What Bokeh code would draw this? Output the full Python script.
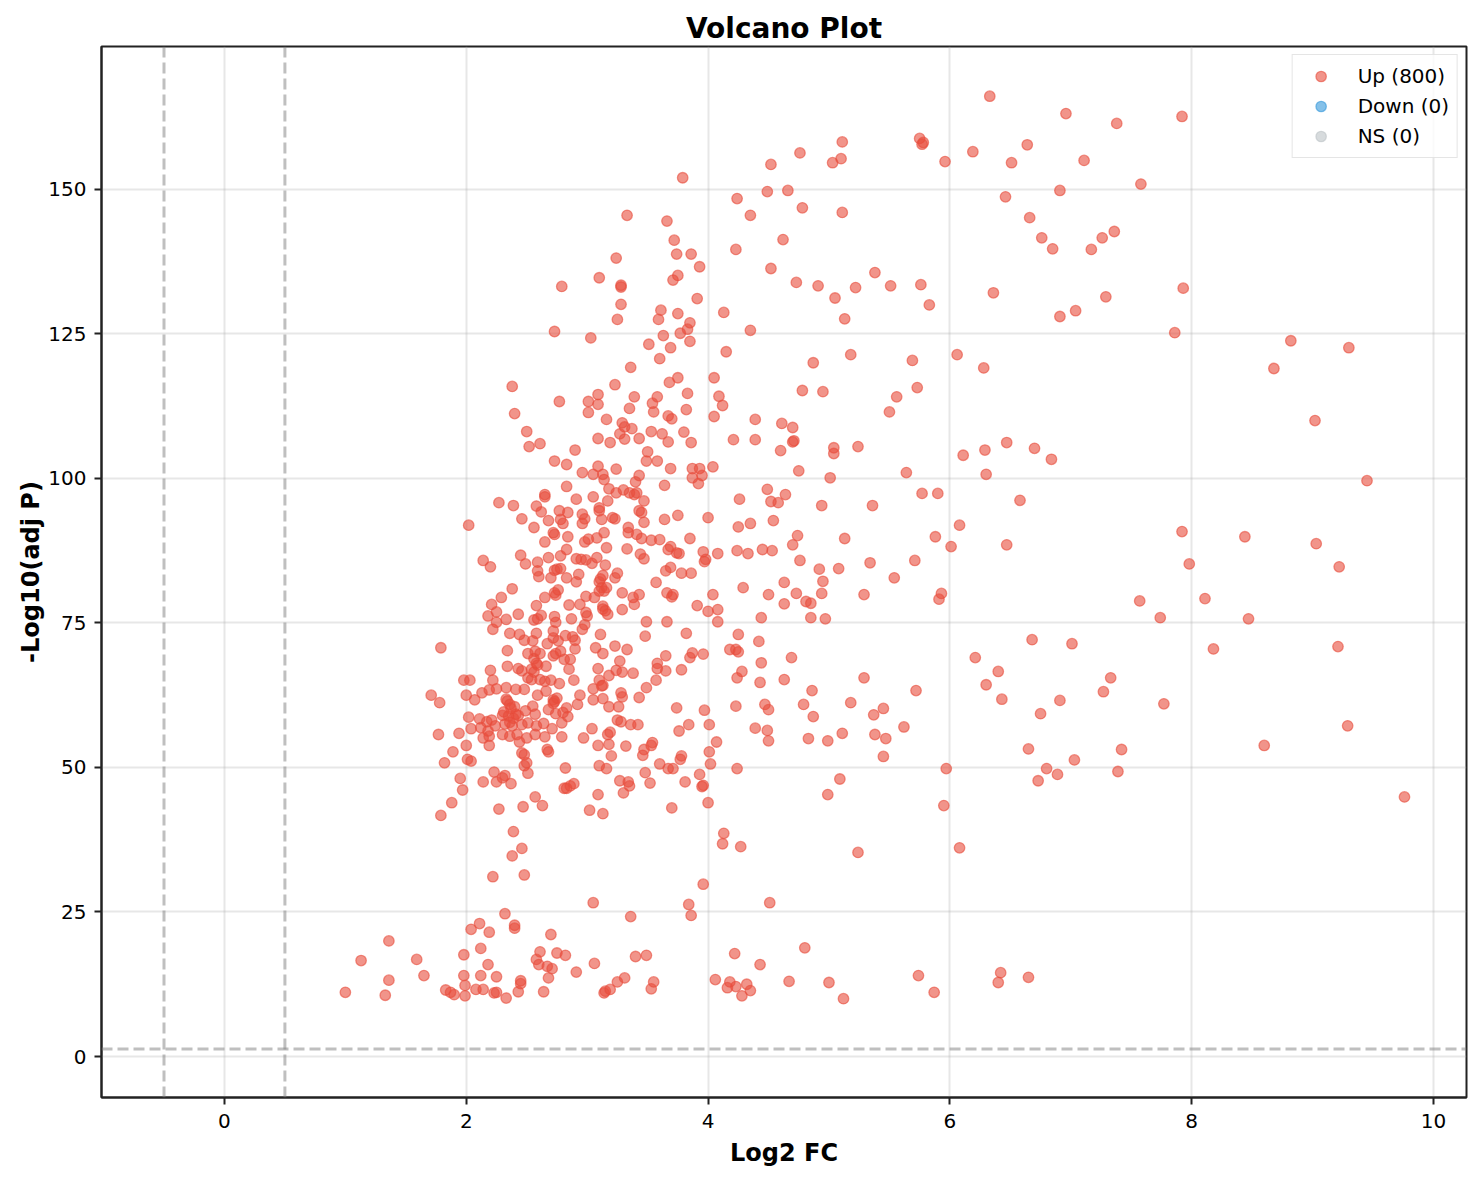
from bokeh.plotting import figure
from bokeh.models import ColumnDataSource, Range1d, FixedTicker, Span, Legend, LegendItem
from bokeh.embed import file_html
from bokeh.resources import INLINE

# upper band of genes (-log10 p above ~104), middle of the plot
top_log2fc = [
    3.79, 3.33, 3.66, 3.72, 3.74, 3.86, 3.93, 3.24, 3.10, 2.79,
    3.28, 3.28, 3.75, 3.71, 3.28, 3.25, 3.91, 3.61, 3.59, 3.75,
    3.85, 3.83, 3.77, 3.63, 2.73, 3.03, 3.85, 3.51, 3.69, 3.60,
    4.13, 4.15, 3.36, 3.75, 3.68, 4.05, 2.38, 3.23, 2.77, 3.09,
    3.01, 3.09, 3.39, 3.58, 3.54, 3.83, 4.09, 4.12, 2.40, 3.01,
    3.35, 3.55, 3.67, 3.70, 3.82, 4.05, 3.16, 3.29, 3.31, 3.37,
    3.27, 2.50, 2.52, 2.61, 2.90, 3.09, 3.19, 3.31, 3.43, 3.53,
    3.62, 3.67, 3.80, 3.86, 3.50,
]
top_neglog10p = [
    152.0, 145.5, 144.5, 141.2, 138.8, 138.8, 136.6, 138.1, 134.7, 133.2,
    133.1, 133.4, 135.1, 134.3, 130.1, 127.5, 131.1, 129.1, 127.5, 128.5,
    126.9, 125.8, 125.1, 124.7, 125.4, 124.3, 123.7, 123.2, 122.6, 120.7,
    128.7, 121.9, 119.2, 117.4, 116.6, 117.4, 115.9, 116.2, 113.3, 114.5,
    113.3, 112.8, 114.1, 114.1, 113.0, 114.7, 114.2, 112.6, 111.2, 111.4,
    112.1, 111.5, 110.8, 110.3, 111.9, 110.7, 110.2, 109.6, 108.9, 108.6,
    107.7, 108.1, 105.5, 106.0, 104.9, 106.9, 106.2, 106.8, 106.9, 108.1,
    107.7, 106.3, 108.0, 106.2, 104.6,
]

# upper band, right half
topright_log2fc = [
    6.33, 6.96, 7.38, 5.75, 5.77, 5.78, 5.11, 4.76, 4.52, 5.03,
    5.10, 5.96, 6.19, 6.51, 6.64, 7.11, 4.24, 4.49, 4.66, 4.78,
    5.11, 4.35, 4.62, 4.23, 6.46, 6.91, 6.66, 6.76, 6.85, 7.17,
    7.26, 7.36, 4.52, 4.73, 4.91, 5.05, 5.22, 5.38, 5.51, 5.76,
    5.83, 6.36, 6.91, 7.04, 7.29, 5.13, 4.35, 4.87, 5.18, 5.69,
    6.06, 6.28, 4.78, 4.95, 5.56, 5.50, 5.73, 4.39, 4.61, 4.70,
    4.70, 4.71, 4.21, 4.39, 4.60, 5.04, 5.04, 5.24, 6.11, 6.29,
    6.47, 6.70, 6.84, 7.58, 7.92, 7.93,
]
topright_neglog10p = [
    166.1, 163.1, 161.4, 158.8, 157.8, 158.1, 158.2, 156.3, 154.3, 154.6,
    155.3, 154.8, 156.5, 154.6, 157.7, 155.0, 148.4, 149.6, 149.8, 146.8,
    146.0, 145.5, 141.3, 139.6, 148.7, 149.8, 145.1, 141.6, 139.7, 139.6,
    141.6, 142.7, 136.3, 133.9, 133.3, 131.2, 133.0, 135.6, 133.3, 133.5,
    130.0, 132.1, 128.0, 129.0, 131.4, 127.6, 125.6, 120.0, 121.4, 120.4,
    121.4, 119.1, 115.2, 115.0, 114.1, 111.5, 115.7, 110.2, 109.5, 108.8,
    106.3, 106.5, 106.7, 106.7, 104.8, 105.3, 104.3, 105.5, 104.0, 104.9,
    106.2, 105.2, 103.3, 150.9, 162.6, 132.9,
]

# far right (log2 FC above ~7.2)
farright_log2fc = [
    7.86, 8.82, 9.30, 8.68, 9.02, 9.45, 7.92, 7.98, 8.44, 9.03,
    9.22, 7.57, 7.74, 8.11, 8.47, 8.18, 9.21, 7.33, 7.27, 7.77,
    9.29, 8.60, 7.42, 7.39, 9.76,
]
farright_neglog10p = [
    125.2, 123.8, 122.6, 119.0, 110.0, 99.6, 90.8, 85.2, 89.9, 88.7,
    84.7, 78.8, 75.9, 79.2, 75.7, 70.5, 70.9, 65.5, 63.1, 61.0,
    57.2, 53.8, 53.1, 49.3, 44.9,
]

# middle band, right of log2 FC ~4.2
midright_log2fc = [
    4.75, 5.01, 5.64, 6.30, 4.49, 4.64, 4.26, 4.52, 4.58, 4.94,
    5.36, 5.77, 5.90, 6.58, 4.25, 4.35, 4.54, 4.74, 4.70, 5.13,
    5.88, 6.08, 6.01, 6.47, 4.24, 4.33, 4.45, 4.53, 4.76, 4.92,
    5.08, 5.34, 5.71, 5.54, 4.95, 4.63, 4.29, 4.50, 4.73, 4.94,
    5.29, 5.93, 5.91, 4.63, 4.81, 4.85, 4.44, 4.85, 4.97, 4.25,
    4.42, 4.18, 4.23, 4.25, 4.69, 4.44, 4.28, 4.24, 4.43, 4.63,
    5.29, 4.86, 5.72, 4.23, 4.47, 4.50, 4.79, 5.18, 4.87, 5.37,
    5.45, 4.39, 4.49, 4.50, 4.83, 4.99, 5.11, 5.38, 5.47, 5.62,
    5.45, 4.24, 5.97, 5.09, 4.99, 6.21, 6.40, 6.30, 6.43, 6.68,
    7.01, 6.91, 6.75, 6.65, 7.03, 6.80, 6.89, 6.73,
]
midright_neglog10p = [
    101.3, 100.1, 101.0, 100.7, 98.1, 97.2, 96.4, 96.0, 95.8, 95.3,
    95.3, 97.4, 97.4, 96.2, 91.6, 92.2, 92.7, 90.1, 88.5, 89.6,
    89.9, 91.9, 88.2, 88.5, 87.5, 87.0, 87.7, 87.5, 85.8, 84.3,
    84.4, 85.4, 85.8, 82.8, 82.2, 82.0, 81.1, 79.9, 80.1, 80.1,
    79.9, 80.1, 79.1, 78.3, 78.7, 78.4, 75.9, 75.9, 75.7, 73.0,
    71.8, 70.4, 70.4, 70.0, 69.0, 68.1, 66.6, 65.5, 64.7, 65.2,
    65.5, 63.3, 63.3, 60.6, 60.9, 60.0, 60.9, 61.2, 58.8, 59.1,
    60.2, 56.8, 56.4, 54.6, 55.0, 54.6, 55.9, 55.7, 55.0, 57.0,
    51.9, 49.8, 49.8, 48.0, 45.3, 69.0, 66.6, 64.3, 61.8, 72.1,
    71.4, 61.6, 59.3, 53.2, 51.3, 49.8, 48.8, 47.7,
]

# lower band, right of log2 FC ~4.2
lowright_log2fc = [
    5.95, 4.27, 5.24, 6.08, 4.51, 4.22, 4.80, 4.43, 4.18, 4.23,
    4.32, 4.35, 4.28, 4.67, 5.00, 5.12, 5.74, 5.87, 6.42, 6.40,
    6.65,
]
lowright_neglog10p = [
    43.4, 36.3, 35.3, 36.1, 26.6, 17.8, 18.8, 15.9, 12.9, 12.1,
    12.5, 11.4, 10.5, 13.0, 12.8, 10.0, 14.0, 11.1, 14.5, 12.8,
    13.7,
]

# lower band, left of log2 FC ~4.2
lowleft_log2fc = [
    1.82, 2.01, 2.04, 2.23, 2.30, 2.32, 2.25, 2.37, 2.14, 1.95,
    1.97, 1.88, 1.79, 2.27, 2.48, 2.50, 2.51, 2.47, 2.57, 2.63,
    2.82, 2.81, 2.83, 2.86, 2.89, 3.10, 3.16, 3.09, 3.02, 3.13,
    3.27, 3.34, 3.35, 3.30, 3.48, 3.52, 3.60, 3.67, 3.71, 3.77,
    3.81, 3.93, 3.95, 3.96, 4.02, 4.00, 3.70, 4.13, 4.12, 2.39,
    2.46, 2.38, 2.48, 2.22, 3.96, 3.05, 3.84, 3.86, 2.32, 3.36,
    2.11, 2.04, 2.19, 2.40, 2.40, 2.70, 1.36, 1.13, 1.59, 1.65,
    1.36, 1.00, 1.33, 2.12, 1.98, 2.18, 1.98, 2.12, 2.25, 1.99,
    1.99, 1.83, 1.87, 1.90, 2.08, 2.14, 2.23, 2.25, 2.33, 2.43,
    2.45, 2.45, 2.61, 2.58, 2.60, 2.67, 2.71, 2.68, 2.75, 2.82,
    2.64, 2.91, 3.06, 3.14, 3.15, 3.19, 3.25, 3.31, 3.40, 3.49,
    3.53, 3.55, 4.06, 4.16,
]
lowleft_neglog10p = [
    50.8, 51.4, 51.1, 49.2, 48.2, 48.6, 47.5, 47.2, 47.5, 48.1,
    46.1, 43.9, 41.7, 42.8, 50.3, 50.8, 49.0, 43.2, 44.9, 43.4,
    49.9, 46.4, 46.4, 46.8, 47.2, 50.3, 49.8, 45.3, 42.6, 42.0,
    47.7, 47.5, 46.8, 45.6, 49.1, 47.3, 50.6, 49.8, 49.8, 51.4,
    47.5, 48.8, 46.7, 46.9, 50.6, 43.9, 43.0, 38.6, 36.8, 38.9,
    36.0, 34.7, 31.4, 31.1, 29.8, 26.6, 26.3, 24.4, 24.7, 24.2,
    23.0, 22.0, 21.5, 22.7, 22.2, 21.1, 20.0, 16.6, 16.8, 14.0,
    13.2, 11.1, 10.6, 18.7, 17.6, 15.9, 14.0, 14.0, 13.8, 12.3,
    10.5, 11.5, 11.1, 10.7, 11.6, 11.6, 11.0, 11.1, 10.1, 11.2,
    13.1, 12.6, 18.1, 16.8, 15.9, 15.6, 15.2, 13.6, 17.9, 17.5,
    11.2, 14.6, 16.1, 11.0, 11.3, 11.6, 12.9, 13.6, 17.3, 17.5,
    11.7, 12.9, 13.3, 11.9,
]

# dense core (log2 FC 1.7 - 4.1, -log10 p 52 - 103)
core_log2fc = [
    2.73, 2.83, 3.09, 3.24, 2.96, 3.05, 3.13, 3.49, 3.58, 3.69,
    3.87, 3.93, 4.04, 3.43, 3.87, 3.95, 3.92, 3.40, 3.14, 3.18,
    3.24, 2.83, 3.30, 3.35, 3.39, 3.41, 3.47, 3.64, 2.65, 2.65,
    2.27, 2.39, 2.58, 2.62, 2.77, 2.84, 2.91, 3.05, 3.17, 3.10,
    3.10, 2.96, 2.98, 3.12, 3.21, 3.23, 3.43, 3.45, 3.47, 3.64,
    3.75, 4.00, 2.46, 2.56, 2.68, 2.78, 2.80, 2.96, 2.02, 2.72,
    2.73, 2.84, 3.14, 3.34, 3.34, 3.41, 3.45, 3.53, 3.60, 3.85,
    2.65, 2.98, 3.01, 3.08, 3.16, 2.83, 3.33, 3.69, 3.67, 3.74,
    3.76, 3.96, 4.08, 3.44, 3.47, 3.98, 3.97, 2.45, 2.49, 2.59,
    2.68, 2.78, 2.91, 2.95, 2.99, 3.04, 3.08, 3.15, 2.14, 2.20,
    2.59, 2.60, 2.73, 2.75, 2.78, 2.70, 2.83, 2.91, 2.93, 3.25,
    3.23, 3.57, 3.65, 3.69, 3.78, 3.86, 2.38, 2.29, 2.21, 2.25,
    2.18, 2.25, 2.33, 2.43, 2.58, 2.65, 2.73, 2.74, 2.76, 2.85,
    2.94, 2.99, 3.06, 3.10, 3.12, 3.10, 3.14, 3.16, 3.13, 3.13,
    3.15, 3.17, 3.29, 3.29, 3.38, 3.39, 3.43, 3.49, 3.66, 3.71,
    3.70, 3.91, 4.00, 4.04, 4.08, 4.08, 3.66, 2.56, 2.59, 2.62,
    2.73, 2.74, 2.87, 2.99, 3.00, 2.22, 2.36, 2.44, 2.48, 2.55,
    2.58, 2.72, 2.72, 2.82, 2.88, 2.90, 2.96, 2.98, 3.11, 3.48,
    3.82, 1.79, 2.34, 2.51, 2.57, 2.61, 2.67, 2.76, 2.78, 2.74,
    2.72, 2.81, 2.86, 2.90, 3.07, 3.13, 3.23, 3.33, 3.65, 3.58,
    3.58, 3.65, 3.78, 3.85, 3.87, 3.96, 2.34, 2.43, 2.46, 2.54,
    2.56, 2.59, 2.66, 2.85, 3.09, 3.18, 3.27, 3.24, 3.29, 3.38,
    2.20, 1.98, 2.03, 2.22, 2.51, 2.54, 2.61, 2.65, 2.70, 2.77,
    2.89, 3.10, 3.13, 3.05, 3.12, 3.28, 3.29, 3.49, 3.57, 1.71,
    1.78, 2.00, 2.07, 2.13, 2.19, 2.25, 2.33, 2.41, 2.48, 2.59,
    2.66, 2.72, 2.72, 2.94, 2.92, 3.05, 3.13, 3.18, 3.26, 3.43,
    3.74, 3.97, 2.33, 2.36, 2.40, 2.30, 2.35, 2.41, 2.49, 2.55,
    2.57, 2.68, 2.74, 2.80, 2.83, 2.84, 2.02, 2.11, 2.17, 2.21,
    2.04, 2.12, 2.18, 2.24, 2.32, 2.38, 2.46, 2.51, 2.58, 2.64,
    2.71, 2.79, 3.25, 3.28, 3.36, 3.42, 3.84, 4.01, 1.77, 1.94,
    2.14, 2.19, 2.30, 2.36, 2.42, 2.44, 2.50, 2.57, 2.65, 2.79,
    2.97, 3.04, 3.17, 3.19, 3.76, 2.00, 2.19, 1.89, 2.46, 2.48,
    2.67, 2.68, 3.09, 3.18, 3.32, 3.47, 3.54, 3.53, 4.07, 4.01,
    3.78, 3.46, 3.20, 2.34, 2.37, 2.31, 2.39, 2.56, 2.58, 2.73,
    2.75, 3.13, 3.11, 2.43, 2.36,
]
core_neglog10p = [
    103.0, 102.4, 102.1, 101.6, 101.0, 100.7, 100.7, 103.0, 103.0, 101.7,
    101.7, 101.7, 102.0, 100.5, 100.1, 100.5, 99.1, 99.4, 99.8, 98.2,
    97.5, 98.6, 98.0, 97.5, 97.2, 97.5, 96.1, 98.8, 97.2, 96.8,
    95.8, 95.3, 95.2, 94.2, 94.4, 94.1, 96.4, 96.8, 96.1, 94.9,
    94.4, 93.8, 93.0, 92.9, 93.2, 93.0, 94.4, 94.1, 92.4, 92.9,
    93.6, 93.2, 93.0, 91.5, 92.7, 92.9, 92.2, 92.2, 91.9, 90.6,
    90.3, 89.9, 90.6, 91.5, 90.6, 90.3, 89.6, 89.3, 89.4, 89.6,
    89.0, 89.0, 89.5, 89.7, 88.0, 87.7, 87.8, 88.2, 87.7, 87.1,
    87.0, 87.3, 87.0, 86.9, 86.1, 86.0, 85.6, 86.7, 85.2, 85.5,
    86.3, 86.6, 86.1, 86.0, 85.9, 85.3, 86.3, 85.0, 85.8, 84.7,
    84.0, 83.0, 84.1, 84.3, 84.4, 82.8, 82.8, 82.1, 83.4, 83.6,
    82.8, 82.0, 84.0, 84.6, 83.6, 83.6, 80.9, 79.4, 78.2, 76.9,
    76.2, 75.1, 75.6, 76.5, 78.0, 79.4, 80.2, 79.8, 80.7, 78.1,
    78.2, 79.6, 79.4, 82.1, 81.1, 80.5, 80.5, 81.1, 77.9, 77.4,
    77.1, 76.5, 80.2, 77.3, 79.4, 78.2, 79.9, 75.2, 80.2, 79.9,
    79.5, 78.0, 77.0, 79.9, 77.3, 75.2, 75.2, 75.5, 75.7, 76.3,
    76.1, 75.1, 75.7, 76.8, 76.2, 73.9, 73.2, 73.0, 72.0, 71.9,
    73.2, 73.6, 72.4, 72.8, 72.6, 72.0, 73.9, 74.7, 73.0, 72.7,
    73.2, 70.7, 70.2, 69.7, 70.1, 69.7, 71.4, 71.9, 70.1, 69.7,
    69.3, 68.7, 68.7, 70.5, 70.7, 69.7, 71.0, 70.4, 69.3, 68.0,
    67.1, 66.7, 66.9, 69.0, 69.8, 69.6, 67.5, 67.1, 66.7, 67.0,
    66.5, 67.7, 67.5, 67.0, 67.1, 65.9, 68.4, 66.8, 66.5, 66.3,
    66.8, 65.1, 65.1, 65.1, 65.5, 65.2, 65.2, 64.9, 65.1, 64.5,
    65.1, 65.1, 64.2, 63.6, 64.1, 62.9, 62.2, 63.8, 65.1, 62.5,
    61.2, 62.5, 61.7, 62.9, 63.4, 63.6, 63.8, 63.5, 63.5, 62.5,
    63.2, 61.7, 61.1, 62.5, 60.9, 61.7, 61.9, 60.5, 60.5, 62.1,
    60.3, 59.9, 61.8, 60.9, 60.5, 59.0, 58.9, 59.2, 59.8, 60.6,
    59.2, 60.0, 59.3, 59.5, 60.3, 58.8, 58.7, 58.4, 57.9, 58.2,
    56.7, 56.9, 56.3, 57.2, 57.5, 57.2, 57.4, 57.7, 57.2, 57.6,
    56.7, 57.7, 58.2, 57.9, 57.4, 57.4, 57.4, 57.4, 55.7, 55.9,
    55.1, 55.4, 55.7, 55.4, 55.7, 54.4, 55.1, 55.7, 55.3, 55.3,
    55.1, 56.7, 55.7, 56.1, 56.3, 53.8, 53.8, 52.7, 52.5, 52.2,
    53.1, 52.7, 53.8, 54.0, 53.7, 53.1, 54.3, 53.8, 54.4, 52.7,
    52.0, 52.1, 52.0, 61.5, 60.2, 59.6, 58.5, 68.8, 68.0, 61.4,
    62.0, 83.2, 82.6, 59.0, 57.8,
]

# no genes fell in these groups
down_log2fc, down_neglog10p = [], []
ns_log2fc, ns_neglog10p = [], []

legend_labels = ["Up (800)", "Down (0)", "NS (0)"]
x_ticks = [0, 2, 4, 6, 8, 10]
y_ticks = [0, 25, 50, 75, 100, 125, 150]

fc_cutoff = 0.5
p_cutoff = 1.3

up_log2fc = (top_log2fc + topright_log2fc + farright_log2fc + midright_log2fc
             + lowright_log2fc + lowleft_log2fc + core_log2fc)
up_neglog10p = (top_neglog10p + topright_neglog10p + farright_neglog10p + midright_neglog10p
                + lowright_neglog10p + lowleft_neglog10p + core_neglog10p)

FONT = "DejaVu Sans"
UP_COLOR = "#e74c3c"
DOWN_COLOR = "#3498db"
NS_COLOR = "#bdc3c7"

p = figure(frame_width=1365, frame_height=1051,
           x_range=Range1d(-1.017, 10.273), y_range=Range1d(-7.09, 174.7),
           title="Volcano Plot", x_axis_label="Log2 FC", y_axis_label="-Log10(adj P)",
           output_backend="svg", toolbar_location=None, tools="",
           min_border_left=101, min_border_right=6, min_border_top=46, min_border_bottom=10)

p.title.text_font = FONT
p.title.text_font_size = "28px"
p.title.text_font_style = "bold"
p.title.text_color = "black"
p.title.align = "center"
p.title.standoff = 4

p.xaxis.ticker = FixedTicker(ticks=x_ticks)
p.yaxis.ticker = FixedTicker(ticks=y_ticks)
p.xgrid.ticker = FixedTicker(ticks=x_ticks)
p.ygrid.ticker = FixedTicker(ticks=y_ticks)

p.axis.axis_line_width = 2
p.axis.axis_line_color = "#222222"
p.axis.major_tick_line_width = 2
p.axis.major_tick_line_color = "#222222"
p.axis.major_tick_out = 7
p.axis.major_tick_in = 0
p.axis.minor_tick_out = 0
p.axis.minor_tick_in = 0
p.axis.major_label_text_font = FONT
p.axis.major_label_text_font_size = "20px"
p.axis.major_label_text_color = "black"
p.axis.axis_label_text_font = FONT
p.axis.axis_label_text_font_size = "24px"
p.axis.axis_label_text_font_style = "bold"
p.axis.axis_label_text_color = "black"
p.xaxis.major_label_standoff = 9
p.xaxis.axis_label_standoff = 8
p.yaxis.major_label_standoff = 8
p.yaxis.axis_label_standoff = 0

p.outline_line_color = "#222222"
p.outline_line_width = 2
p.outline_line_alpha = 1

p.grid.grid_line_color = "#b0b0b0"
p.grid.grid_line_alpha = 0.3
p.grid.grid_line_width = 2

src_up = ColumnDataSource(data=dict(x=up_log2fc, y=up_neglog10p))
src_down = ColumnDataSource(data=dict(x=down_log2fc, y=down_neglog10p))
src_ns = ColumnDataSource(data=dict(x=ns_log2fc, y=ns_neglog10p))

marker = dict(size=10.5, fill_alpha=0.6, line_alpha=0.6, line_width=1.3)
p.scatter("x", "y", source=src_ns, fill_color=NS_COLOR, line_color=NS_COLOR, **marker)
p.scatter("x", "y", source=src_down, fill_color=DOWN_COLOR, line_color=DOWN_COLOR, **marker)
r_up = p.scatter("x", "y", source=src_up, fill_color=UP_COLOR, line_color=UP_COLOR, **marker)

# empty groups draw nothing in a legend, so give them stand-in swatches
nan = float("nan")
proxy_down = p.scatter(x=[nan], y=[nan], fill_color=DOWN_COLOR, line_color=DOWN_COLOR, **marker)
proxy_ns = p.scatter(x=[nan], y=[nan], fill_color=NS_COLOR, line_color=NS_COLOR, **marker)

# threshold lines
for loc in [-fc_cutoff, fc_cutoff]:
    p.add_layout(Span(location=loc, dimension="height", line_color="gray", line_alpha=0.5,
                      line_width=3, line_dash="11 5"))
p.add_layout(Span(location=p_cutoff, dimension="width", line_color="gray", line_alpha=0.5,
                  line_width=3, line_dash="11 5"))

legend = Legend(items=[LegendItem(label=legend_labels[0], renderers=[r_up]),
                       LegendItem(label=legend_labels[1], renderers=[proxy_down]),
                       LegendItem(label=legend_labels[2], renderers=[proxy_ns])],
                location="top_right")
legend.label_text_font = FONT
legend.label_text_font_size = "20px"
legend.label_text_color = "black"
legend.label_height = 26
legend.glyph_height = 26
legend.glyph_width = 40
legend.label_standoff = 17
legend.spacing = 4
legend.padding = 8
legend.margin = 8
legend.border_line_color = "#cccccc"
legend.border_line_width = 1.5
legend.background_fill_alpha = 0.8
p.add_layout(legend)

open("out.html", "w").write(file_html(p, INLINE))
